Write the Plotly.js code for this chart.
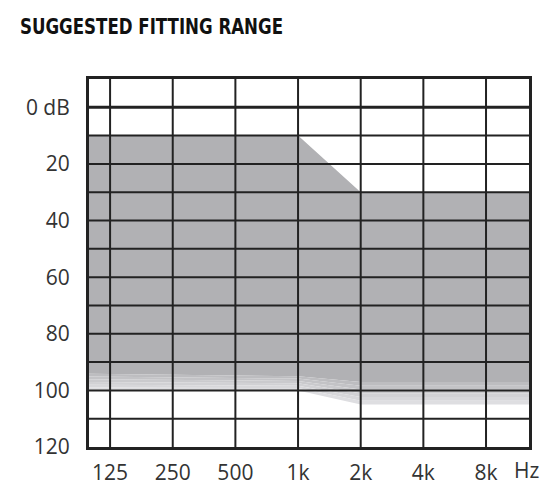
<!DOCTYPE html>
<html>
<head>
<meta charset="utf-8">
<script src="https://cdn.plot.ly/plotly-3.0.1.min.js"></script>
<style>
  html, body { margin: 0; padding: 0; background: #fff; }
  #chart { width: 556px; height: 500px; }
</style>
</head>
<body>
<div id="chart"></div>
<script>
// audiogram frequencies (Hz) and hearing level ticks (dB)
const freqTicks = [125, 250, 500, 1000, 2000, 4000, 8000];
const freqLabels = ['125', '250', '500', '1k', '2k', '4k', '8k'];
const dbTicks = [0, 20, 40, 60, 80, 100, 120];
const dbLabels = ['0 dB', '20', '40', '60', '80', '100', '120'];
const dbGrid = [0, 10, 20, 30, 40, 50, 60, 70, 80, 90, 100, 110];

// fitting range outline (runs past the plot edges, clipped by the axes)
const rangeFreq = [80, 1000, 2000, 16000];
const upperDb = [10, 10, 30, 30];
const fadeTopDb = [94, 95, 97, 97];
const lowerDb = [100, 100, 105, 105];

const gray = '#b1b1b4';
const gridColor = '#222222';
const fadeSteps = 6;

let traces = [];
traces.push({
  x: rangeFreq, y: upperDb, type: 'scatter', mode: 'lines',
  line: { width: 0 }, hoverinfo: 'skip', showlegend: false
});
traces.push({
  x: rangeFreq, y: fadeTopDb, type: 'scatter', mode: 'lines',
  line: { width: 0 }, fill: 'tonexty', fillcolor: gray,
  hoverinfo: 'skip', showlegend: false
});

// soft lower edge: a few lighter bands
for (let i = 1; i <= fadeSteps; i++) {
  const t = i / fadeSteps;
  const c = Math.round(182 + (222 - 182) * t);
  traces.push({
    x: rangeFreq,
    y: fadeTopDb.map((v, k) => v + (lowerDb[k] - v) * t),
    type: 'scatter', mode: 'lines',
    line: { width: 0 }, fill: 'tonexty',
    fillcolor: `rgb(${c},${c},${c + 3})`,
    hoverinfo: 'skip', showlegend: false
  });
}

let shapes = [];
freqTicks.forEach(f => {
  shapes.push({
    type: 'line', layer: 'above', xref: 'x', yref: 'paper',
    x0: f, x1: f, y0: 0, y1: 1,
    line: { color: gridColor, width: 2 }
  });
});
dbGrid.forEach(d => {
  shapes.push({
    type: 'line', layer: 'above', xref: 'paper', yref: 'y',
    x0: 0, x1: 1, y0: d, y1: d,
    line: { color: gridColor, width: d === 0 ? 3 : 2 }
  });
});

const tickFont = { family: 'Open Sans, sans-serif', size: 21, color: '#333' };

const layout = {
  width: 556,
  height: 500,
  margin: { l: 89, r: 27, t: 79, b: 53 },
  paper_bgcolor: '#fff',
  plot_bgcolor: '#fff',
  showlegend: false,
  title: {
    text: '<b>SUGGESTED FITTING RANGE</b>',
    xref: 'container', yref: 'container',
    x: 20 / 556, xanchor: 'left',
    y: 1 - 27 / 500, yanchor: 'middle',
    font: { family: 'DejaVu Sans Condensed, Liberation Sans Narrow, sans-serif', size: 21, color: '#111' }
  },
  xaxis: {
    type: 'log',
    range: [Math.log10(99), Math.log10(12870)],
    tickvals: freqTicks,
    ticktext: freqLabels,
    tickfont: tickFont,
    ticks: '',
    ticklabelstandoff: 5,
    showgrid: false,
    zeroline: false,
    showline: true,
    mirror: true,
    linecolor: gridColor,
    linewidth: 3,
    layer: 'above traces',
    fixedrange: true
  },
  yaxis: {
    range: [120, -10],
    tickvals: dbTicks,
    ticktext: dbLabels,
    tickfont: tickFont,
    ticks: '',
    ticklabelstandoff: 12,
    showgrid: false,
    zeroline: false,
    showline: true,
    mirror: true,
    linecolor: gridColor,
    linewidth: 3,
    layer: 'above traces',
    fixedrange: true
  },
  shapes: shapes,
  annotations: [{
    text: 'Hz', xref: 'paper', yref: 'paper',
    x: 0.995, y: -0.062, xanchor: 'center', yanchor: 'middle',
    showarrow: false, font: tickFont
  }]
};

Plotly.newPlot('chart', traces, layout, { displayModeBar: false, staticPlot: true })
  .then(gd => {
    // the title in the original is set in a narrow face: squeeze it to width
    const t = gd.querySelector('.gtitle');
    if (t) {
      t.setAttribute('textLength', 263);
      t.setAttribute('lengthAdjust', 'spacingAndGlyphs');
    }
  });
</script>
</body>
</html>
